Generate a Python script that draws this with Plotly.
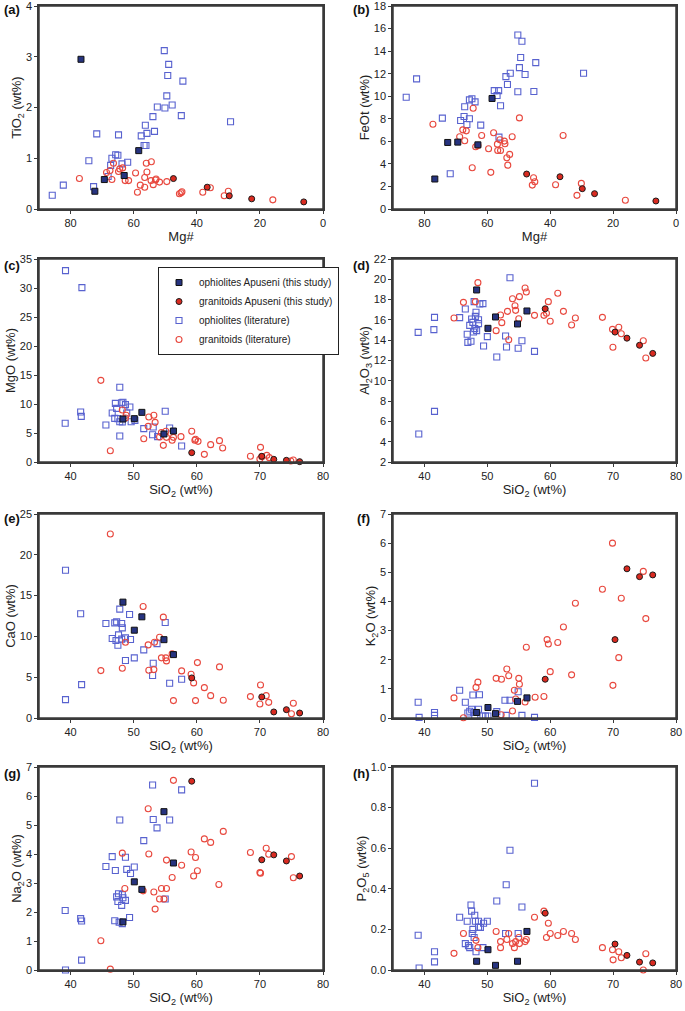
import plotly.graph_objects as go
from plotly.subplots import make_subplots

# ---- data ----
# (a) TiO2 vs Mg#
a_oph_study_x = [76.7, 58.4, 63.0, 69.3, 72.3]
a_oph_study_y = [2.95, 1.15, 0.66, 0.58, 0.35]
a_gran_study_x = [47.4, 36.7, 29.7, 22.6, 6.1]
a_gran_study_y = [0.60, 0.43, 0.26, 0.20, 0.14]
a_oph_lit_x = [50.3, 48.9, 49.2, 44.4, 49.5, 52.5, 50.1, 47.8, 44.9, 53.9, 56.3, 29.3, 71.7, 64.8, 57.6,
               55.8, 53.4, 56.7, 56.1, 66.9, 65.7, 65.0, 74.2, 63.7, 61.9, 67.3, 68.1, 82.3, 85.8, 72.7]
a_oph_lit_y = [3.12, 2.85, 2.63, 2.52, 2.23, 2.01, 1.99, 2.05, 1.84, 1.82, 1.65, 1.72, 1.48, 1.46, 1.44,
               1.49, 1.53, 1.25, 1.25, 1.00, 1.07, 1.06, 0.95, 0.89, 0.92, 0.86, 0.64, 0.47, 0.27, 0.44]
a_gran_lit_x = [77.2, 66.4, 68.6, 67.5, 66.9, 64.8, 64.4, 63.5, 62.7, 61.6, 59.4, 58.8, 57.9, 56.5, 56.5, 56.0,
                55.8, 54.4, 54.5, 53.8, 53.1, 52.9, 51.8, 49.5, 45.5, 45.0, 44.7, 38.1, 35.7, 31.3, 30.0, 15.9]
a_gran_lit_y = [0.60, 0.90, 0.72, 0.76, 0.58, 0.74, 0.79, 0.81, 0.56, 0.56, 0.71, 0.33, 0.47, 0.43, 0.62, 0.90,
                0.73, 0.93, 0.56, 0.48, 0.57, 0.59, 0.53, 0.54, 0.30, 0.32, 0.34, 0.33, 0.42, 0.26, 0.35, 0.18]

# (b) FeOt vs Mg#
b_oph_study_x = [76.7, 72.6, 69.4, 63.0, 58.5]
b_oph_study_y = [2.66, 5.90, 5.93, 5.69, 9.80]
b_gran_study_x = [47.5, 36.9, 29.8, 25.9, 6.4]
b_gran_study_y = [3.10, 2.86, 1.80, 1.36, 0.71]
b_oph_lit_x = [50.3, 49.0, 49.4, 44.6, 49.8, 52.7, 54.1, 48.0, 29.4, 82.5, 53.6, 57.8, 56.4, 56.9, 50.3,
               45.2, 85.8, 65.7, 64.9, 63.9, 55.8, 67.2, 74.3, 65.7, 68.5, 67.4, 66.5, 62.1, 56.3, 71.8]
b_oph_lit_y = [15.43, 14.87, 13.43, 12.98, 12.54, 12.04, 11.74, 11.92, 12.04, 11.54, 11.04, 10.50, 10.50, 10.06, 10.39,
               10.42, 9.91, 9.68, 9.77, 9.50, 9.15, 9.06, 8.06, 8.00, 7.85, 8.20, 7.49, 7.44, 6.37, 3.13]
b_gran_lit_x = [77.3, 64.5, 49.8, 35.9, 67.8, 66.7, 67.2, 68.8, 61.8, 58.0, 52.1, 63.7, 63.0, 56.8, 56.0, 54.6,
                54.4, 59.6, 56.7, 55.8, 52.9, 53.8, 53.5, 64.8, 58.9, 45.3, 44.9, 45.7, 38.3, 30.1, 31.5, 16.1]
b_gran_lit_y = [7.52, 8.94, 8.08, 6.52, 7.02, 6.93, 6.05, 6.40, 6.52, 6.76, 6.40, 5.52, 5.64, 5.75, 6.14, 6.02,
                5.78, 5.34, 5.19, 5.19, 4.84, 4.54, 3.89, 3.66, 3.25, 2.77, 2.42, 2.12, 2.15, 2.27, 1.21, 0.77]

# SiO2 of the samples of this study (shared by panels c-h)
sio2_oph_study = [48.3, 50.1, 51.3, 54.8, 56.3]
sio2_gran_study = [59.2, 70.3, 72.2, 74.2, 76.3]

# (c) MgO
c_oph_study_y = [7.41, 7.47, 8.56, 4.83, 5.34]
c_gran_study_y = [1.61, 0.98, 0.46, 0.29, 0.06]
c_oph_lit_x = [39.2, 41.8, 39.15, 41.6, 41.7, 45.6, 47.8, 46.6, 47.1, 47.3, 47.0, 47.5, 47.8, 48.1, 48.3,
               48.7, 48.9, 47.8, 49.4, 49.6, 50.2, 51.6, 53.1, 53.0, 53.8, 55.0, 55.7, 57.6, 48.2]
c_oph_lit_y = [33.0, 30.06, 6.67, 8.62, 7.87, 6.38, 12.9, 8.45, 10.1, 9.25, 7.53, 7.47, 6.95, 10.2, 10.3,
               9.9, 8.45, 4.48, 9.48, 6.95, 7.18, 5.75, 6.03, 4.71, 4.37, 8.74, 5.86, 2.76, 6.9]
c_gran_lit_x = [44.8, 46.3, 48.2, 48.8, 48.7, 51.6, 52.3, 52.4, 53.2, 53.4, 54.1, 54.4, 54.7, 55.1, 55.2, 56.1, 56.3,
                57.5, 59.2, 59.7, 59.8, 60.2, 61.2, 62.2, 63.6, 64.1, 68.5, 70.1, 70.0, 70.3, 71.1, 71.5, 74.9, 75.3]
c_gran_lit_y = [14.08, 1.95, 8.97, 8.05, 7.59, 4.02, 6.15, 7.76, 8.05, 6.84, 4.31, 5.06, 2.87, 5.29, 4.25, 3.74, 4.25,
                4.37, 5.29, 3.74, 3.91, 3.56, 1.32, 2.99, 3.68, 2.41, 0.98, 2.53, 0.52, 0.92, 1.15, 0.75, 0.17, 0.34]

# (d) Al2O3
d_oph_study_y = [18.95, 15.17, 16.29, 15.60, 16.88]
d_gran_study_y = [17.1, 14.8, 14.2, 13.5, 12.7]
d_oph_lit_x = [39.1, 39.0, 41.6, 41.5, 41.6, 45.6, 46.5, 46.8, 46.9, 47.4, 47.2, 47.5, 47.7, 47.8, 48.0, 48.1,
               47.9, 48.2, 48.3, 48.6, 48.6, 48.8, 49.3, 49.4, 50.0, 51.5, 52.9, 53.05, 53.6, 54.9, 55.5, 57.5]
d_oph_lit_y = [4.76, 14.77, 16.25, 15.04, 6.99, 16.22, 17.07, 14.58, 13.79, 13.89, 15.46, 16.09, 15.76, 14.81, 15.14, 16.35,
               17.80, 16.75, 14.94, 16.02, 15.63, 17.57, 17.60, 13.43, 14.35, 12.34, 14.41, 13.33, 20.16, 13.20, 13.95, 12.90]
d_gran_lit_x = [44.7, 46.2, 48.1, 48.5, 51.4, 52.1, 52.3, 53.2, 53.4, 54.0, 54.4, 54.5, 55.0, 55.1, 56.0, 56.2,
                57.5, 59.0, 59.4, 59.7, 60.0, 61.2, 62.1, 63.4, 64.0, 68.3, 69.9, 69.97, 70.9, 71.3, 74.8, 75.2]
d_gran_lit_y = [16.19, 17.73, 17.80, 19.67, 14.94, 16.48, 15.73, 16.84, 14.05, 18.09, 17.40, 16.94, 16.12, 18.29, 19.14, 18.75,
                16.45, 16.45, 16.65, 17.80, 15.86, 18.62, 16.84, 15.50, 16.19, 16.25, 15.07, 13.30, 15.27, 14.64, 13.95, 12.25]

# (e) CaO
e_oph_study_y = [14.2, 10.76, 12.4, 9.6, 7.77]
e_gran_study_y = [4.91, 2.58, 0.74, 1.02, 0.61]
e_oph_lit_x = [39.2, 39.2, 41.6, 41.75, 45.6, 46.6, 47.0, 47.3, 47.2, 47.5, 47.6, 47.8, 48.1, 48.2, 48.1,
               48.7, 48.7, 49.35, 49.5, 50.1, 51.6, 53.1, 53.0, 53.7, 55.0, 55.7, 57.6]
e_oph_lit_y = [18.1, 2.25, 12.77, 4.09, 11.58, 9.74, 11.66, 11.78, 9.49, 8.92, 10.19, 13.34, 11.58, 11.05, 9.66,
               9.82, 7.04, 12.68, 9.62, 7.37, 8.35, 6.71, 5.20, 9.12, 11.70, 4.26, 4.75]
e_gran_lit_x = [46.3, 44.8, 48.2, 48.7, 51.5, 52.3, 52.4, 53.2, 53.3, 54.1, 54.4, 54.7, 55.1, 55.2, 56.1, 56.3,
                57.6, 59.1, 59.5, 59.8, 60.1, 61.2, 62.2, 63.6, 64.2, 68.5, 70.1, 70.0, 71.0, 71.4, 75.0, 75.3]
e_gran_lit_y = [22.55, 5.81, 6.10, 9.29, 13.67, 8.96, 5.85, 5.93, 9.29, 9.90, 7.37, 12.36, 7.37, 7.00, 7.86, 2.13,
                5.77, 5.36, 4.30, 2.13, 6.79, 3.72, 2.74, 6.26, 2.17, 2.62, 4.05, 1.72, 2.74, 1.92, 0.53, 1.80]

# (f) K2O
f_oph_study_y = [0.19, 0.36, 0.15, 0.57, 0.69]
f_gran_study_y = [1.33, 2.69, 5.12, 4.85, 4.91]
f_oph_lit_x = [39.0, 39.15, 41.6, 41.6, 45.6, 46.5, 46.9, 47.2, 47.5, 47.7, 47.9, 48.0, 48.6, 48.75,
               49.3, 49.7, 50.1, 51.5, 52.8, 53.6, 53.0, 54.9, 55.5, 57.5]
f_oph_lit_y = [0.54, 0.02, 0.19, 0.09, 0.95, 0.54, 0.17, 0.23, 0.30, 0.79, 0.19, 0.08, 0.30, 0.80,
               0.07, 0.07, 0.07, 0.22, 0.61, 0.61, 0.09, 0.90, 0.09, 0.02]
f_gran_lit_x = [44.7, 46.2, 48.2, 48.5, 51.4, 52.25, 52.2, 53.1, 53.4, 54.0, 54.3, 54.5, 55.0, 55.1, 56.0, 56.2,
                57.6, 59.0, 59.5, 59.7, 60.0, 61.2, 62.1, 63.4, 64.0, 68.3, 69.9, 69.97, 70.9, 71.3, 74.8, 75.2]
f_gran_lit_y = [0.69, 0.01, 1.05, 1.23, 1.36, 1.33, 0.11, 1.68, 1.45, 0.24, 0.95, 0.65, 1.36, 1.16, 0.55, 2.43,
                0.71, 0.74, 2.69, 2.54, 1.59, 2.59, 3.12, 1.48, 3.94, 4.42, 6.00, 1.12, 2.07, 4.11, 5.03, 3.41]

# (g) Na2O
g_oph_study_y = [1.66, 3.04, 2.78, 5.46, 3.69]
g_gran_study_y = [6.51, 3.80, 3.97, 3.76, 3.24]
g_oph_lit_x = [39.15, 39.2, 41.6, 41.75, 41.75, 45.6, 46.6, 47.1, 47.0, 47.3, 47.5, 47.6, 47.8, 47.7, 48.1, 48.2,
               48.2, 48.3, 48.7, 48.7, 48.9, 49.35, 49.5, 50.1, 51.6, 53.0, 53.1, 53.7, 55.0, 55.7, 57.6]
g_oph_lit_y = [2.05, 0.0, 1.77, 1.69, 0.34, 3.57, 3.91, 3.43, 1.70, 2.52, 2.36, 2.63, 5.17, 1.65, 2.23, 2.60,
               1.60, 2.49, 2.40, 3.89, 3.47, 1.81, 3.33, 3.55, 4.46, 6.38, 5.19, 4.90, 2.45, 5.17, 6.21]
g_gran_lit_x = [44.8, 46.3, 48.2, 48.6, 51.5, 52.3, 52.4, 53.2, 53.4, 54.1, 54.4, 54.8, 55.2, 55.2, 56.1, 56.3,
                57.6, 59.1, 59.5, 59.8, 60.1, 61.2, 62.2, 63.5, 64.2, 68.5, 70.1, 70.0, 71.0, 71.4, 75.0, 75.3]
g_gran_lit_y = [1.01, 0.03, 4.03, 2.81, 2.73, 5.56, 4.00, 2.69, 2.10, 2.45, 2.81, 2.45, 2.81, 3.79, 3.19, 6.54,
                3.61, 4.07, 3.24, 3.88, 3.42, 4.52, 4.40, 2.95, 4.78, 4.05, 3.34, 3.36, 4.20, 3.99, 3.91, 3.18]

# (h) P2O5
h_oph_study_y = [0.043, 0.10, 0.023, 0.043, 0.19]
h_gran_study_y = [0.28, 0.128, 0.072, 0.039, 0.035]
h_oph_lit_x = [39.0, 39.15, 41.6, 41.6, 45.6, 46.5, 46.8, 47.0, 47.2, 47.4, 47.5, 47.6, 47.7, 47.9, 48.0,
               48.1, 48.2, 48.6, 48.6, 48.9, 49.3, 49.4, 50.0, 51.5, 53.0, 52.9, 53.6, 54.9, 55.5, 57.5]
h_oph_lit_y = [0.171, 0.01, 0.09, 0.04, 0.26, 0.13, 0.24, 0.12, 0.11, 0.32, 0.29, 0.18, 0.20, 0.16, 0.27,
               0.24, 0.09, 0.24, 0.21, 0.21, 0.11, 0.23, 0.24, 0.34, 0.42, 0.18, 0.59, 0.18, 0.31, 0.92]
h_gran_lit_x = [44.7, 46.2, 48.2, 48.5, 51.4, 52.1, 52.1, 53.1, 53.4, 54.0, 54.3, 54.5, 55.0, 55.1, 56.0, 56.2,
                57.5, 59.0, 59.4, 59.7, 60.0, 61.2, 62.1, 63.4, 64.0, 68.3, 69.9, 70.0, 70.9, 71.3, 74.8, 75.2]
h_gran_lit_y = [0.082, 0.18, 0.146, 0.11, 0.19, 0.14, 0.11, 0.15, 0.18, 0.13, 0.11, 0.14, 0.16, 0.13, 0.14, 0.15,
                0.26, 0.29, 0.16, 0.23, 0.18, 0.17, 0.19, 0.18, 0.15, 0.11, 0.10, 0.05, 0.09, 0.06, 0.0, 0.08]

series_names = ["ophiolites Apuseni (this study)", "granitoids Apuseni (this study)",
                "ophiolites (literature)", "granitoids (literature)"]

FONT = "Liberation Sans, Arial, Helvetica, sans-serif"
BLUE_OPEN = "#5862cf"
RED_OPEN = "#e8483e"
NAVY = "#26337f"
RED_FILL = "#d92a20"
FRAME = "#3a3a3a"

styles = {
    series_names[0]: dict(symbol="square", size=6, color=NAVY, line=dict(color="#111111", width=1)),
    series_names[1]: dict(symbol="circle", size=6, color=RED_FILL, line=dict(color="#1a1a1a", width=1)),
    series_names[2]: dict(symbol="square-open", size=6, color=BLUE_OPEN, line=dict(width=1.1)),
    series_names[3]: dict(symbol="circle-open", size=6, color=RED_OPEN, line=dict(width=1.1)),
}

fig = make_subplots(rows=4, cols=2)

panels = [
    # row, col, label, data (oph_study, gran_study, oph_lit, gran_lit), x title, y title, x range, y range, y dtick, x dtick
    (1, 1, "(a)", [(a_oph_study_x, a_oph_study_y), (a_gran_study_x, a_gran_study_y),
                   (a_oph_lit_x, a_oph_lit_y), (a_gran_lit_x, a_gran_lit_y)],
     "Mg#", "TiO<sub>2</sub> (wt%)", [90, 0], [0, 4], 1, 20),
    (1, 2, "(b)", [(b_oph_study_x, b_oph_study_y), (b_gran_study_x, b_gran_study_y),
                   (b_oph_lit_x, b_oph_lit_y), (b_gran_lit_x, b_gran_lit_y)],
     "Mg#", "FeOt (wt%)", [90, 0], [0, 18], 2, 20),
    (2, 1, "(c)", [(sio2_oph_study, c_oph_study_y), (sio2_gran_study, c_gran_study_y),
                   (c_oph_lit_x, c_oph_lit_y), (c_gran_lit_x, c_gran_lit_y)],
     "SiO<sub>2</sub> (wt%)", "MgO (wt%)", [35, 80], [0, 35], 5, 10),
    (2, 2, "(d)", [(sio2_oph_study, d_oph_study_y), (sio2_gran_study, d_gran_study_y),
                   (d_oph_lit_x, d_oph_lit_y), (d_gran_lit_x, d_gran_lit_y)],
     "SiO<sub>2</sub> (wt%)", "Al<sub>2</sub>O<sub>3</sub> (wt%)", [35, 80], [2, 22], 2, 10),
    (3, 1, "(e)", [(sio2_oph_study, e_oph_study_y), (sio2_gran_study, e_gran_study_y),
                   (e_oph_lit_x, e_oph_lit_y), (e_gran_lit_x, e_gran_lit_y)],
     "SiO<sub>2</sub> (wt%)", "CaO (wt%)", [35, 80], [0, 25], 5, 10),
    (3, 2, "(f)", [(sio2_oph_study, f_oph_study_y), (sio2_gran_study, f_gran_study_y),
                   (f_oph_lit_x, f_oph_lit_y), (f_gran_lit_x, f_gran_lit_y)],
     "SiO<sub>2</sub> (wt%)", "K<sub>2</sub>O (wt%)", [35, 80], [0, 7], 1, 10),
    (4, 1, "(g)", [(sio2_oph_study, g_oph_study_y), (sio2_gran_study, g_gran_study_y),
                   (g_oph_lit_x, g_oph_lit_y), (g_gran_lit_x, g_gran_lit_y)],
     "SiO<sub>2</sub> (wt%)", "Na<sub>2</sub>O (wt%)", [35, 80], [0, 7], 1, 10),
    (4, 2, "(h)", [(sio2_oph_study, h_oph_study_y), (sio2_gran_study, h_gran_study_y),
                   (h_oph_lit_x, h_oph_lit_y), (h_gran_lit_x, h_gran_lit_y)],
     "SiO<sub>2</sub> (wt%)", "P<sub>2</sub>O<sub>5</sub> (wt%)", [35, 80], [0, 1.0], 0.2, 10),
]

# pixel boxes of the plot frames (685 x 1011 page)
col_px = {1: (39, 323), 2: (393, 676)}
row_px = {1: (6, 209), 2: (259, 462), 3: (514, 718), 4: (767, 970)}
label_pos = {"(a)": (2, 10), "(b)": (351, 10), "(c)": (2, 265), "(d)": (351, 265),
             "(e)": (2, 518), "(f)": (355, 518), "(g)": (2, 773), "(h)": (351, 773)}

W, H = 685, 1011
draw_order = [2, 3, 0, 1]  # literature underneath, this study on top

for i, (r, c, lab, data, xt, yt, xr, yr, ydt, xdt) in enumerate(panels):
    for k in draw_order:
        name = series_names[k]
        fig.add_trace(go.Scatter(
            x=data[k][0], y=data[k][1], mode="markers", name=name,
            legendgroup=name, showlegend=(i == 2), legendrank=k + 1,
            marker=styles[name], cliponaxis=False,
        ), row=r, col=c)

    n = (r - 1) * 2 + c
    x0, x1 = col_px[c]
    y0, y1 = row_px[r]
    ax_common = dict(showline=True, linecolor=FRAME, linewidth=1.5, mirror=True,
                     ticks="outside", ticklen=3, tickwidth=1, tickcolor=FRAME,
                     showgrid=False, zeroline=False, automargin=False,
                     ticklabeloverflow="allow",
                     tickfont=dict(family=FONT, size=11, color="#222222"))
    sfx = "" if n == 1 else str(n)
    fig.update_layout({
        f"xaxis{sfx}": dict(
            domain=[x0 / W, x1 / W], range=xr, dtick=xdt,
            title=dict(text=xt, font=dict(family=FONT, size=13, color="#222222"), standoff=2),
            **ax_common),
        f"yaxis{sfx}": dict(
            domain=[1 - y1 / H, 1 - y0 / H], range=yr, dtick=ydt,
            tickformat=".1f" if ydt < 1 else "",
            title=dict(text=yt, font=dict(family=FONT, size=13, color="#222222"), standoff=1),
            **ax_common),
    })
    # frame round the plotting area
    fig.add_shape(type="rect", xref=f"x{sfx} domain", yref=f"y{sfx} domain",
                  x0=0, x1=1, y0=0, y1=1, line=dict(color=FRAME, width=1.5), layer="above")
    lx, ly = label_pos[lab]
    fig.add_annotation(text=f"<b>{lab}</b>", xref="paper", yref="paper",
                       x=lx / W, y=1 - ly / H, xanchor="left", yanchor="middle",
                       showarrow=False, font=dict(family=FONT, size=13, color="#111111"))

fig.update_layout(
    width=W, height=H,
    margin=dict(l=0, r=0, t=0, b=0, autoexpand=False),
    paper_bgcolor="white", plot_bgcolor="white",
    font=dict(family=FONT, color="#222222"),
    legend=dict(x=158 / W, y=1 - 267 / H, xanchor="left", yanchor="top",
                bgcolor="white", bordercolor="#222222", borderwidth=1,
                font=dict(family=FONT, size=10, color="#222222"),
                itemsizing="trace", tracegroupgap=0, traceorder="normal"),
)

# the page body has a default 8px margin; drop it so the figure sits at the page corner
fig.write_html("out.html", config={"displayModeBar": False},
               post_script="document.body.style.margin='0';")
